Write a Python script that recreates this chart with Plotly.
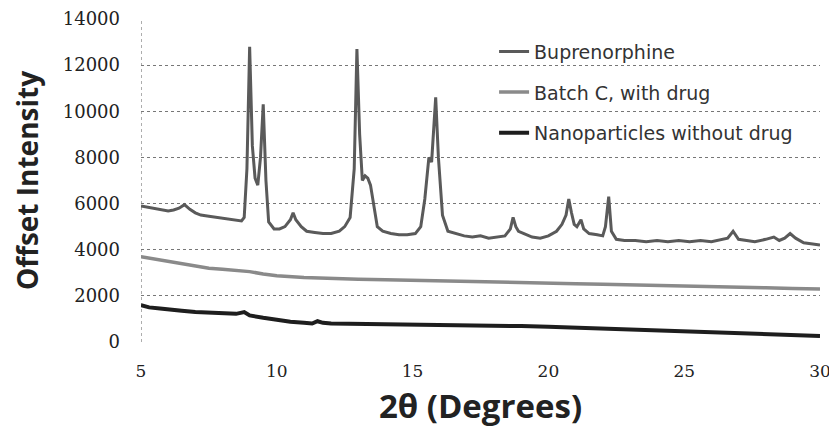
import plotly.graph_objects as go

# Buprenorphine
bup_x = [5.0, 5.2, 5.4, 5.6, 5.8, 6.0, 6.2, 6.4, 6.6, 6.8, 7.0, 7.2, 7.5, 7.8, 8.1, 8.4, 8.7, 8.8,
         8.9, 9.0, 9.1, 9.2, 9.3, 9.4, 9.5, 9.6, 9.7, 9.9, 10.1, 10.3, 10.5, 10.6, 10.7, 10.9, 11.1,
         11.4, 11.7, 12.0, 12.3, 12.5, 12.7, 12.85, 12.95, 13.05, 13.15, 13.25, 13.35, 13.45, 13.55,
         13.7, 13.9, 14.2, 14.5, 14.8, 15.1, 15.3, 15.45, 15.6, 15.7, 15.85, 15.95, 16.1, 16.3, 16.6,
         16.9, 17.2, 17.5, 17.8, 18.1, 18.4, 18.6, 18.7, 18.8, 18.9, 19.1, 19.4, 19.7, 20.0, 20.3,
         20.5, 20.65, 20.75, 20.85, 20.95, 21.05, 21.2, 21.3, 21.5, 21.8, 22.0, 22.1, 22.22, 22.32,
         22.5, 22.8, 23.2, 23.6, 24.0, 24.4, 24.8, 25.2, 25.6, 26.0, 26.4, 26.6, 26.8, 27.0, 27.3,
         27.6, 28.0, 28.3, 28.5, 28.7, 28.9, 29.1, 29.4, 29.7, 30.0]
bup_y = [5900, 5850, 5800, 5780, 5700, 5680, 5720, 5800, 5950, 5750, 5600, 5500, 5450, 5400, 5350,
         5300, 5250, 5400, 7500, 12800, 8500, 7100, 6800, 8000, 10300, 7000, 5200, 4900, 4900, 5000,
         5300, 5600, 5300, 5000, 4800, 4750, 4700, 4700, 4800, 5000, 5400, 7500, 12700, 9000, 7000,
         7200, 7100, 6800, 6000, 5000, 4800, 4700, 4650, 4650, 4700, 5000, 6200, 8000, 7800, 10600,
         8000, 5500, 4800, 4700, 4600, 4550, 4600, 4500, 4550, 4600, 4900, 5400, 5000, 4800, 4700,
         4550, 4500, 4600, 4800, 5100, 5500, 6200, 5600, 5100, 5000, 5300, 4900, 4700, 4650, 4600,
         5000, 6300, 4800, 4450, 4400, 4400, 4350, 4400, 4350, 4400, 4350, 4400, 4350, 4450, 4500,
         4800, 4450, 4400, 4350, 4450, 4550, 4400, 4500, 4700, 4500, 4300, 4250, 4200]

# Batch C, with drug
batch_x = [5, 5.5, 6, 6.5, 7, 7.5, 8, 8.5, 9, 9.5, 10, 11, 12, 13, 14, 15, 16, 17, 18, 19, 20,
           21, 22, 23, 24, 25, 26, 27, 28, 29, 30]
batch_y = [3700, 3600, 3500, 3400, 3300, 3200, 3150, 3100, 3050, 2950, 2870, 2800, 2750, 2720,
           2700, 2680, 2650, 2630, 2600, 2580, 2560, 2530, 2500, 2480, 2450, 2420, 2400, 2370,
           2350, 2320, 2300]

# Nanoparticles without drug
nano_x = [5, 5.3, 5.7, 6, 6.5, 7, 7.5, 8, 8.5, 8.8, 9.0, 9.5, 10, 10.5, 11, 11.3, 11.5, 11.7,
          12, 13, 14, 15, 16, 17, 18, 19, 20, 21, 22, 23, 24, 25, 26, 27, 28, 29, 30]
nano_y = [1600, 1500, 1450, 1400, 1350, 1300, 1280, 1250, 1220, 1300, 1150, 1050, 950, 880, 830,
          800, 900, 830, 800, 790, 780, 760, 740, 720, 700, 690, 660, 620, 580, 550, 520, 480,
          440, 400, 340, 300, 260]

x_ticks = [5, 10, 15, 20, 25, 30]
y_ticks = [0, 2000, 4000, 6000, 8000, 10000, 12000, 14000]
y_labels = [str(v) for v in y_ticks]

fig = go.Figure()
fig.add_trace(go.Scatter(x=bup_x, y=bup_y, mode="lines", name="Buprenorphine", legendgroup="a",
                         line=dict(color="#5a5a5a", width=3)))
fig.add_trace(go.Scatter(x=batch_x, y=batch_y, mode="lines", name="Batch C, with drug", legendgroup="b",
                         line=dict(color="#8a8a8a", width=3.5)))
fig.add_trace(go.Scatter(x=nano_x, y=nano_y, mode="lines", name="Nanoparticles without drug",
                         legendgroup="c", line=dict(color="#1e1e1e", width=4)))

fig.add_shape(type="line", xref="x", yref="y", x0=5, x1=5, y0=0, y1=14000,
              line=dict(color="#777777", width=1.2, dash="dot"), layer="below")

fig.update_layout(
    width=829, height=429,
    margin=dict(l=133, r=17, t=11, b=95),
    paper_bgcolor="white", plot_bgcolor="white",
    font=dict(family="DejaVu Serif, serif", color="#222222"),
    showlegend=True,
    legend=dict(x=0.52, y=0.958, xanchor="left", yanchor="top",
                bgcolor="rgba(0,0,0,0)", font=dict(size=19, color="#333333", family="DejaVu Sans"),
                tracegroupgap=13),
    xaxis=dict(range=[5, 30], tickvals=x_ticks, showgrid=False, zeroline=False, automargin=False,
               showline=False, ticks="", tickfont=dict(size=17), ticklabelstandoff=17,
               title=dict(text="2θ (Degrees)", font=dict(size=33, family="Open Sans", weight="bold"),
                          standoff=14)),
    yaxis=dict(range=[0, 14000], tickvals=y_ticks, ticktext=y_labels, showgrid=True, automargin=False,
               gridcolor="#777777", griddash="dot", gridwidth=1.2, zeroline=False, showline=False,
               ticks="", tickfont=dict(size=18), ticklabelstandoff=20,
               title=dict(text="Offset Intensity", font=dict(size=28, family="Open Sans", weight="bold"),
                          standoff=16)),
)

fig.write_html("out.html")
